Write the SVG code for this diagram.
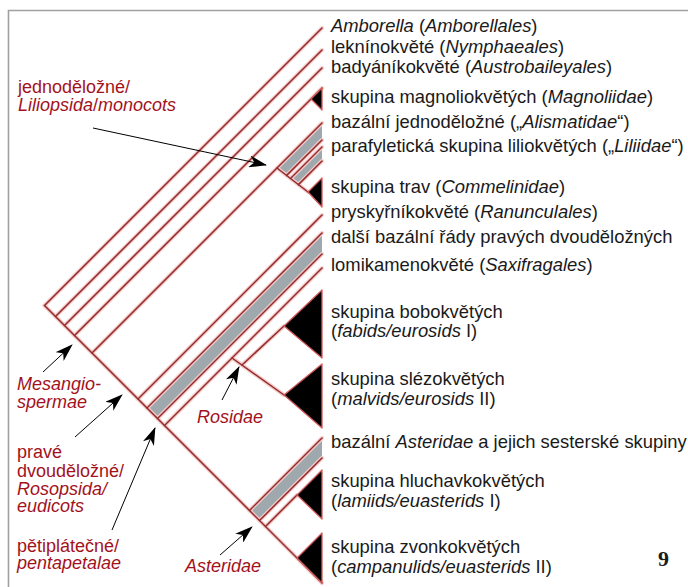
<svg xmlns="http://www.w3.org/2000/svg" width="688" height="587" viewBox="0 0 688 587">
<defs>
<marker id="ah" viewBox="0 0 18 12" refX="17" refY="6" markerWidth="18" markerHeight="12" markerUnits="userSpaceOnUse" orient="auto">
<path d="M0,0 L18,6 L0,12 L5,6 Z" fill="#000"/>
</marker>
</defs>
<style>
.t{font-family:"Liberation Sans",Arial,sans-serif;font-size:18.4px;fill:#1a1a1a}
.l{font-family:"Liberation Sans",Arial,sans-serif;font-size:18px;fill:#a3121c}
.i{font-style:italic}
.n{font-style:normal}
.ln{stroke:#962a2a;stroke-width:1.5;fill:none;stroke-linecap:round}
.halo{stroke:#f3cccc;stroke-width:4;fill:none;stroke-linecap:round}
.tri{fill:#000;stroke:#d25a5a;stroke-width:1.3;stroke-linejoin:round}
.gr{fill:#9fa9ad;stroke:none}
.ar{stroke:#000;stroke-width:1;fill:none;marker-end:url(#ah)}
</style>
<rect width="688" height="587" fill="#fff"/>
<path d="M8.5,587 V10.5 H688" stroke="#a0a0a0" stroke-width="1.6" fill="none"/>

<g id="bands">
<polygon class="gr" points="277,168 322,123 322,140 286.6,175.4"/>
<polygon class="gr" points="290.5,178.5 322,147 322,161 298.4,184.6"/>
<polygon class="gr" points="147,408 322,233 322,254 157.5,418.5"/>
<polygon class="gr" points="249.5,510.5 322,438 322,458 259.5,520.5"/>
</g>

<g class="halo"><use href="#edges"/></g>
<g id="connectors" class="ln">
<g id="edges">
<path d="M44.5,305.5 L322,583"/>
<path d="M44.5,305.5 L322,28"/>
<path d="M55.5,316.5 L322,50"/>
<path d="M64.5,325.5 L322,68"/>
<path d="M74.5,335.5 L322,88"/>
<path d="M92,353 L322,123"/>
<path d="M277,168 L308,192"/>
<path d="M286.6,175.4 L322,140"/>
<path d="M290.5,178.5 L322,147"/>
<path d="M298.4,184.6 L322,161"/>
<path d="M138,399 L322,215"/>
<path d="M147,408 L322,233"/>
<path d="M157.5,418.5 L322,254"/>
<path d="M164.5,425.5 L322,268"/>
<path d="M232,358 L284,395"/>
<path d="M242,365 L284,326"/>
<path d="M249.5,510.5 L322,438"/>
<path d="M259.5,520.5 L322,458"/>
<path d="M265.5,526.5 L297,495"/>
</g>
</g>

<g id="clade-magnoliidae"><polygon class="tri" points="311,99 322,88 322,110"/></g>
<g id="clade-commelinidae"><polygon class="tri" points="308,192 322,178 322,207"/></g>
<g id="clade-fabids"><polygon class="tri" points="284,326 322,290 322,358"/></g>
<g id="clade-malvids"><polygon class="tri" points="284,395 322,364 322,428"/></g>
<g id="clade-lamiids"><polygon class="tri" points="297,495 322,470 322,519"/></g>
<g id="clade-campanulids"><polygon class="tri" points="297,558 322,533 322,583"/></g>

<g id="tip-labels" class="t">
<text x="331" y="32"><tspan class="i">Amborella</tspan> (<tspan class="i">Amborellales</tspan>)</text>
<text x="331" y="53">leknínokvěté (<tspan class="i">Nymphaeales</tspan>)</text>
<text x="331" y="73">badyáníkokvěté (<tspan class="i">Austrobaileyales</tspan>)</text>
<text x="331" y="103">skupina magnoliokvětých (<tspan class="i">Magnoliidae</tspan>)</text>
<text x="331" y="128">bazální jednoděložné („<tspan class="i">Alismatidae</tspan>“)</text>
<text x="331" y="152">parafyletická skupina liliokvětých („<tspan class="i">Liliidae</tspan>“)</text>
<text x="331" y="193">skupina trav (<tspan class="i">Commelinidae</tspan>)</text>
<text x="331" y="218">pryskyřníkokvěté (<tspan class="i">Ranunculales</tspan>)</text>
<text x="331" y="243">další bazální řády pravých dvouděložných</text>
<text x="331" y="271">lomikamenokvěté (<tspan class="i">Saxifragales</tspan>)</text>
<text x="331" y="318">skupina bobokvětých</text>
<text x="331" y="337">(<tspan class="i">fabids/eurosids</tspan> I)</text>
<text x="331" y="385">skupina slézokvětých</text>
<text x="331" y="405">(<tspan class="i">malvids/eurosids</tspan> II)</text>
<text x="331" y="448">bazální <tspan class="i">Asteridae</tspan> a jejich sesterské skupiny</text>
<text x="331" y="487">skupina hluchavkokvětých</text>
<text x="331" y="507">(<tspan class="i">lamiids/euasterids</tspan> I)</text>
<text x="331" y="553">skupina zvonkokvětých</text>
<text x="331" y="573">(<tspan class="i">campanulids/euasterids</tspan> II)</text>
</g>

<g id="group-labels" class="l">
<text x="18" y="93">jednoděložné/</text>
<text x="18" y="111" class="i">Liliopsida<tspan class="n">/</tspan>monocots</text>
<text x="17" y="390" class="i">Mesangio-</text>
<text x="17" y="408" class="i">spermae</text>
<text x="17" y="458">pravé</text>
<text x="17" y="477">dvouděložné/</text>
<text x="17" y="495" class="i">Rosopsida/</text>
<text x="17" y="512" class="i">eudicots</text>
<text x="17" y="552">pětiplátečné/</text>
<text x="17" y="569" class="i">pentapetalae</text>
<text x="197" y="423" class="i">Rosidae</text>
<text x="185" y="572" class="i">Asteridae</text>
</g>

<g id="arrows">
<path class="ar" d="M93,128 L266,165"/>
<path class="ar" d="M43,372 L72,345"/>
<path class="ar" d="M75,437 L122,395"/>
<path class="ar" d="M112,530 L155,428"/>
<path class="ar" d="M222,400 L239,367"/>
<path class="ar" d="M220,555 L252,527"/>
</g>

<text x="658" y="566" style="font-family:'Liberation Serif',serif;font-weight:bold;font-size:22px;fill:#1a1a1a">9</text>
</svg>
